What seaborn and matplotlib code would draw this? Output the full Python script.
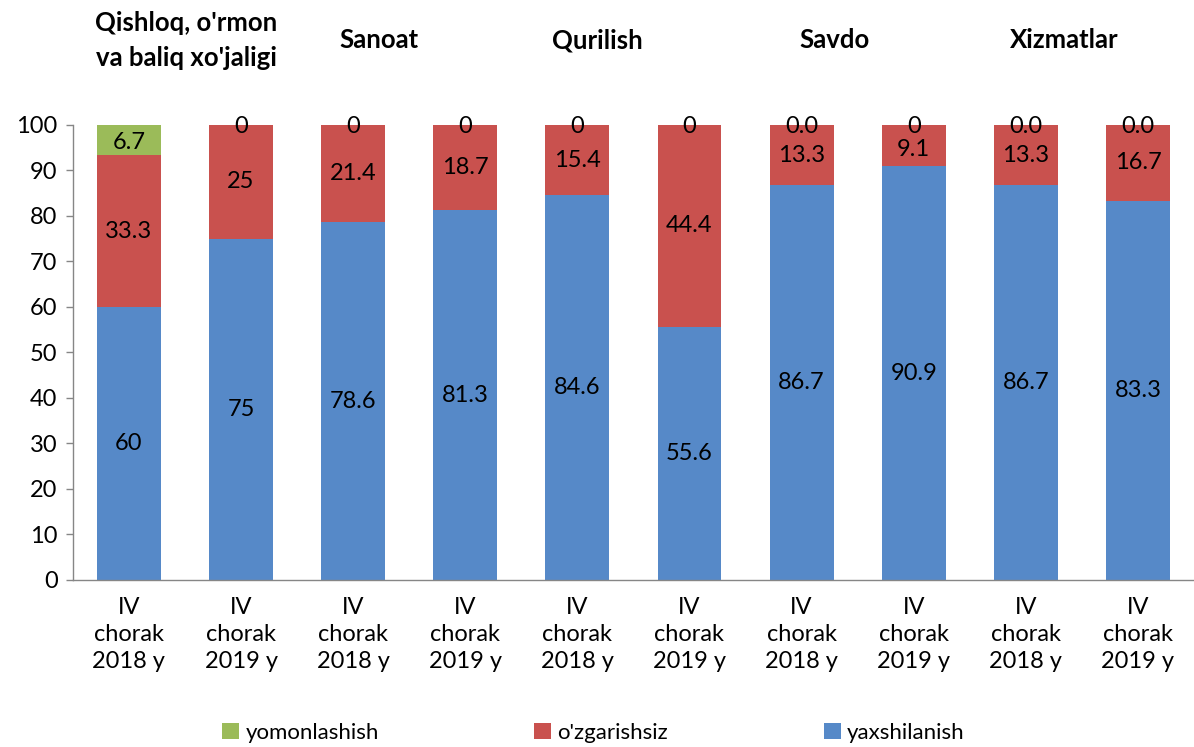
import matplotlib
matplotlib.use("Agg")
import matplotlib.pyplot as plt
import seaborn as sns
import numpy as np

sns.set_theme(style="white")
plt.rcParams["font.family"] = ["Lato", "DejaVu Sans"]
plt.rcParams["text.color"] = "black"
plt.rcParams["xtick.color"] = "black"
plt.rcParams["ytick.color"] = "black"

# --- data ---
periods = ["IV\nchorak\n2018 y", "IV\nchorak\n2019 y"] * 5
sectors = ["Qishloq, o'rmon\nva baliq xo'jaligi", "Sanoat", "Qurilish", "Savdo", "Xizmatlar"]
yaxshilanish = [60, 75, 78.6, 81.3, 84.6, 55.6, 86.7, 90.9, 86.7, 83.3]
ozgarishsiz = [33.3, 25, 21.4, 18.7, 15.4, 44.4, 13.3, 9.1, 13.3, 16.7]
yomonlashish = [6.7, 0, 0, 0, 0, 0, 0.0, 0, 0.0, 0.0]
yomon_labels = ["6.7", "0", "0", "0", "0", "0", "0.0", "0", "0.0", "0.0"]

COLORS = {"yomonlashish": "#9BBB59", "o'zgarishsiz": "#C9514E", "yaxshilanish": "#5689C8"}

idx = np.arange(len(periods))
blue = np.array(yaxshilanish)
red = np.array(ozgarishsiz)
green = np.array(yomonlashish)

fig = plt.figure(figsize=(11.94, 7.47), dpi=100)
ax = fig.add_axes([0.061, 0.2236, 0.939, 0.6091])

# stacked bars drawn as cumulative totals, top layer first
for vals, name in [(blue + red + green, "yomonlashish"),
                   (blue + red, "o'zgarishsiz"),
                   (blue, "yaxshilanish")]:
    sns.barplot(x=idx, y=vals, color=COLORS[name], width=0.57, saturation=1,
                ax=ax, label=name, linewidth=0, edgecolor="none")

# value labels centred in segments
for i in idx:
    ax.text(i, blue[i] / 2, f"{blue[i]:g}", ha="center", va="center", fontsize=17)
    ax.text(i, blue[i] + red[i] / 2 - (0.8 if red[i] < 10 else 0), f"{red[i]:g}",
            ha="center", va="center", fontsize=17)
    ax.text(i, blue[i] + red[i] + green[i] / 2 - 0.4, yomon_labels[i],
            ha="center", va="center", fontsize=17)

ax.set_xlim(-0.5, len(periods) - 0.5)
ax.set_ylim(0, 100)
ax.set_yticks(range(0, 101, 10))
ax.set_xticks(idx)
ax.set_xticklabels(periods, fontsize=17, linespacing=1.35)
ax.set_xticks(np.arange(-0.5, len(periods), 1), minor=True)
ax.tick_params(axis="x", which="major", length=0, pad=12)
ax.tick_params(axis="x", which="minor", length=7, color="#868686", width=1)
ax.tick_params(axis="y", length=5, color="#868686", width=1, labelsize=17, pad=6, left=True)
ax.set_xlabel("")
ax.set_ylabel("")

for side in ["top", "right"]:
    ax.spines[side].set_visible(False)
for side in ["left", "bottom"]:
    ax.spines[side].set_color("#868686")
    ax.spines[side].set_linewidth(1)

# sector titles above pairs of bars
title_x = [0.51, 2.23, 4.18, 6.29, 8.34]
for x, name in zip(title_x, sectors):
    y = 0.946 if "\n" in name else 0.946
    fig.text(ax.transData.transform((x, 0))[0] / fig.bbox.width, y, name,
             ha="center", va="center", fontsize=18.5, fontweight="bold", linespacing=1.55)

handles, labels = ax.get_legend_handles_labels()
if ax.get_legend():
    ax.get_legend().remove()
fig.legend(handles, labels, loc="center", bbox_to_anchor=(0.497, 0.019), ncol=3,
           frameon=False, fontsize=16, handlelength=0.75, handleheight=0.75,
           handletextpad=0.3, columnspacing=7.0)

fig.savefig("out.png", dpi=100)
plt.close(fig)
